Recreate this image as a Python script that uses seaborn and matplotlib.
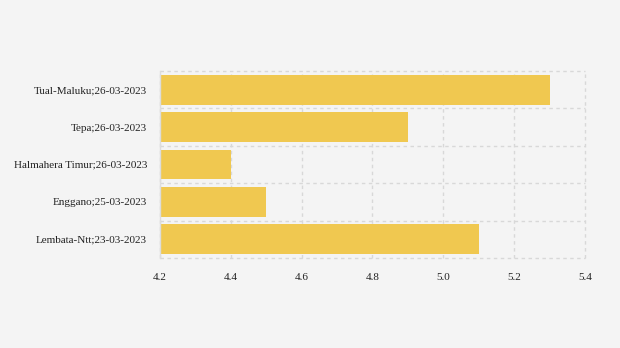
import matplotlib
matplotlib.use("Agg")
import matplotlib.pyplot as plt
import seaborn as sns
import pandas as pd
import numpy as np

categories = ["Tual-Maluku;26-03-2023", "Tepa;26-03-2023", "Halmahera Timur;26-03-2023",
              "Enggano;25-03-2023", "Lembata-Ntt;23-03-2023"]
values = [5.3, 4.9, 4.4, 4.5, 5.1]
xticks = [4.2, 4.4, 4.6, 4.8, 5.0, 5.2, 5.4]

sns.set_style("white")
plt.rcParams['font.family'] = ['Liberation Serif', 'DejaVu Serif']

df = pd.DataFrame({"cat": categories, "val": values})

fig = plt.figure(figsize=(6.2, 3.48), dpi=100, facecolor="#f4f4f4")
ax = fig.add_axes([160/620, 1-258/348, 425/620, 187/348])
ax.set_facecolor("#f4f4f4")

sns.barplot(data=df, x="val", y="cat", color="#f0c850", saturation=1, width=0.8, ax=ax, orient="h")
# bars start at the axis minimum
for p, v in zip(ax.patches, values):
    p.set_x(4.2)
    p.set_width(v - 4.2)
    p.set_edgecolor("none")

ax.set_xlim(4.2, 5.4)
ax.set_ylim(4.5, -0.5)
ax.set_xticks(xticks)
ax.set_xticklabels([f"{t:.1f}" for t in xticks])
ax.set_yticks(np.arange(-0.5, 5, 1.0), minor=True)
ax.grid(False)
ax.xaxis.grid(True, which="major", linestyle=(0, (2.5, 2.5)), color="#d8d8d8", linewidth=1)
ax.yaxis.grid(True, which="minor", linestyle=(0, (2.5, 2.5)), color="#d8d8d8", linewidth=1)
for t in ax.xaxis.get_major_ticks() + ax.yaxis.get_minor_ticks():
    t.gridline.set_clip_on(False)
ax.set_axisbelow(True)
ax.tick_params(axis="y", which="major", length=4.3, color="#dddddd", width=1, labelsize=8, labelcolor="#222222", pad=5)
ax.tick_params(axis="y", which="minor", length=0)
ax.tick_params(axis="x", length=0, labelsize=8, labelcolor="#222222", pad=10.5)
for s in ["top", "right", "bottom"]:
    ax.spines[s].set_visible(False)
ax.spines["left"].set_color("#dddddd")
ax.spines["left"].set_linewidth(1)
ax.set_xlabel("")
ax.set_ylabel("")

fig.savefig("out.png", dpi=100, facecolor=fig.get_facecolor())
